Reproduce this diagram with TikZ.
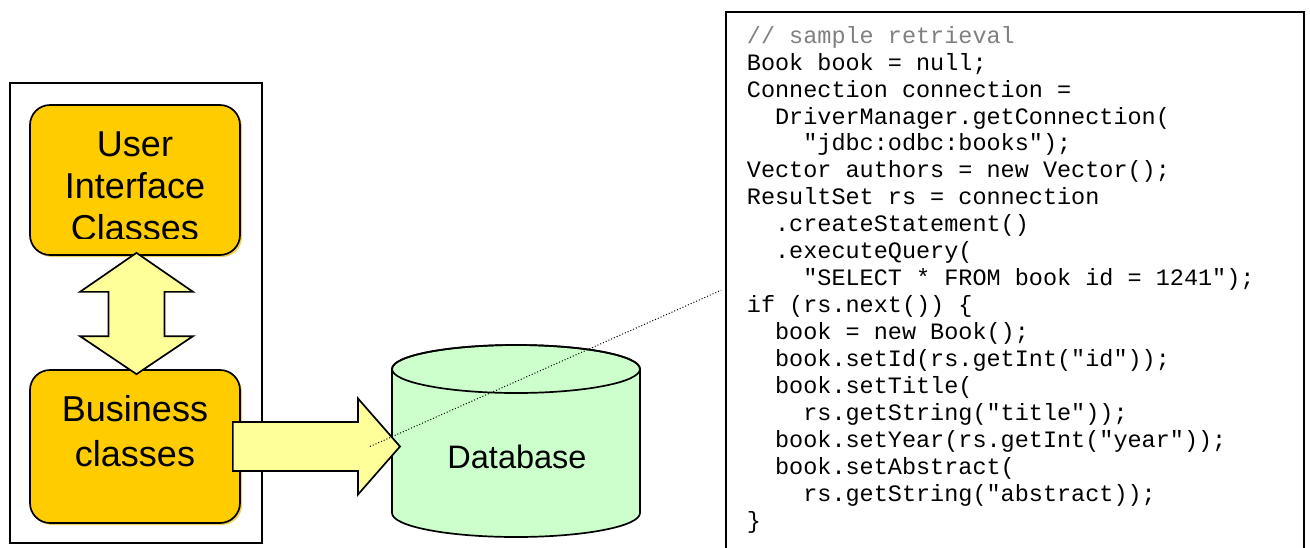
\documentclass[tikz,border=0pt]{standalone}
\usepackage{fontspec}
\setmainfont{Liberation Sans}
\newfontfamily\codefont{Liberation Mono}
\usetikzlibrary{calc,shadows}
\definecolor{boxfill}{HTML}{FFCC00}
\definecolor{shadowfill}{HTML}{F0D25A}
\definecolor{arrowfill}{HTML}{FFFF99}
\definecolor{dbfill}{HTML}{CCFFCC}
\definecolor{commentgray}{HTML}{808080}

\begin{document}
\begin{tikzpicture}[
        x=1pt, y=-1pt,
        frame/.style={draw, line width=1.7pt, minimum width=251.7pt, minimum height=460pt},
        classbox/.style={draw, line width=1.7pt, rounded corners=20pt, fill=boxfill, minimum width=210pt,
            drop shadow={shadow xshift=2pt, shadow yshift=-2pt, fill=shadowfill, opacity=1}},
        classtext/.style={align=center, inner sep=0pt},
        blockarrow/.style={draw, line width=1.7pt, fill=arrowfill, line join=miter},
        dbshape/.style={draw, line width=1.7pt, fill=dbfill},
        listing/.style={draw, line width=1.7pt, minimum width=578pt, minimum height=557pt},
        codetext/.style={align=left, inner sep=0pt, font=\codefont\fontsize{23.5}{26.94}\selectfont}
    ]
        \useasboundingbox (0,0) rectangle (1310,547);
        \clip (0,0) rectangle (1310,547);

        % Anwendung mit zwei Schichten
        \node[frame] (tier) at (135.85,313.3) {};
        \node[classbox, minimum height=150pt] (ui) at (135,180) {};
        \node[classbox, minimum height=153pt] (biz) at (135,446.5) {};

        \begin{scope}
            \clip (ui.north west) rectangle ([yshift=17pt]ui.south east);
            \node[classtext, font=\fontsize{36}{42}\selectfont] (uitext) at (135,185.8) {User\\Interface\\Classes};
        \end{scope}
        \node[classtext, font=\fontsize{36}{45}\selectfont] (biztext) at (135,431.3) {Business\\classes};

        \coordinate (uptip) at ([xshift=1.5pt, yshift=3pt]ui.south);
        \coordinate (dntip) at ([xshift=1.5pt, yshift=-5pt]biz.north);
        \draw[blockarrow] (uptip) -- ++(56.5,39) -- ++(-28.5,0) |- ($(dntip)+(28,-38)$) -- ++(28.5,0)
            -- (dntip) -- ++(-56.5,-38) -- ++(28.5,0) |- ($(uptip)+(-28,39)$) -- ++(-28.5,0) -- cycle;

        % Datenbank
        \coordinate (dbtop) at (516,369);
        \coordinate (dbwest) at ($(dbtop)+(-124,72)$);
        \draw[dbshape] ($(dbtop)+(-124,0)$) -- ++(0,144) arc[start angle=180, end angle=0, x radius=124, y radius=24]
            -- ++(0,-144) arc[start angle=360, end angle=180, x radius=124, y radius=24] -- cycle;
        \draw[line width=1.7pt] (dbtop) ellipse[x radius=124, y radius=24];
        \node[font=\fontsize{32.5}{39}\selectfont, anchor=base, inner sep=0pt] (db) at (517,468.3) {Database};

        \coordinate (tail) at ([xshift=-8pt]biz.east);
        \coordinate (tip) at ([xshift=8pt]tail -| dbwest);
        \draw[blockarrow] ($(tail)+(0,-24.5)$) -- ($(tip)+(-42,-24.5)$) -- ++(0,-23.5) -- (tip)
            -- ++(-42,48) -- ++(0,-23.5) -- ($(tail)+(0,24.5)$) -- cycle;

        % Quelltext
        \node[listing] (code) at (1015,290.2) {};
        \node[codetext, anchor=north west] (src) at (746.7,23) {\rule{0pt}{20pt}\textcolor{commentgray}{//~sample~retrieval}\\
            Book~book~=~null;\\
            Connection~connection~=\\
            ~~DriverManager.getConnection(\\
            ~~~~"jdbc:odbc:books");\\
            Vector~authors~=~new~Vector();\\
            ResultSet~rs~=~connection\\
            ~~.createStatement()\\
            ~~.executeQuery(\\
            ~~~~"SELECT~*~FROM~book~id~=~1241");\\
            if~(rs.next())~\{\\
            ~~book~=~new~Book();\\
            ~~book.setId(rs.getInt("id"));\\
            ~~book.setTitle(\\
            ~~~~rs.getString("title"));\\
            ~~book.setYear(rs.getInt("year"));\\
            ~~book.setAbstract(\\
            ~~~~rs.getString("abstract));\\
            \}};

        \coordinate (lens) at ([xshift=-30pt]tip);
        \draw[dotted, line width=1pt] (lens) -- ([xshift=-4pt]code.west);
    \end{tikzpicture}
\end{document}
